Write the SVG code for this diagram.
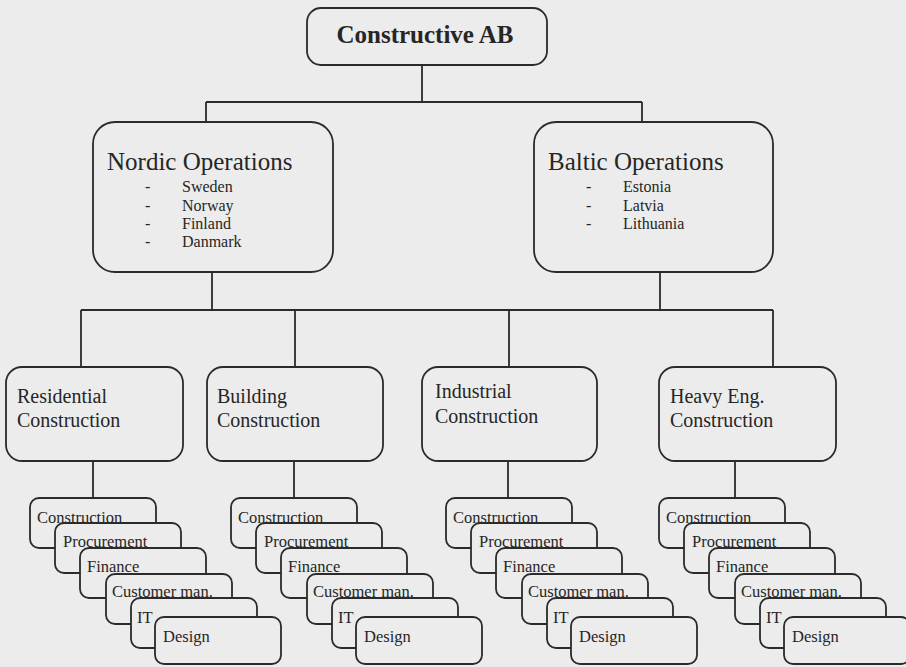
<svg xmlns="http://www.w3.org/2000/svg" width="906" height="667" viewBox="0 0 906 667">
  <style>
    .box { fill: #ececec; stroke: #2b2b2b; stroke-width: 1.8; }
    .wire { fill: none; stroke: #2b2b2b; stroke-width: 1.8; }
    text { font-family: "Liberation Serif", "Times New Roman", serif; fill: #262626; }
    .title { font-size: 25px; font-weight: bold; }
    .region { font-size: 25px; }
    .country { font-size: 16px; }
    .division { font-size: 20px; }
    .dept { font-size: 16.5px; }
  </style>
  <rect width="906" height="667" fill="#ececec"/>

  <!-- connectors -->
  <g id="connectors">
    <path class="wire" d="M422 65 V102 M206 102 H642 M206 102 V122 M642 102 V122"/>
    <path class="wire" d="M212 272 V310 M660 272 V310 M81 310 H773 M81 310 V367 M295 310 V367 M509 310 V367 M773 310 V367"/>
    <path class="wire" d="M93 461 V498 M294 461 V498 M508 461 V498 M735 461 V498"/>
  </g>

  <!-- top level -->
  <g id="constructive-ab">
    <rect class="box" x="307" y="8" width="240" height="57" rx="14"/>
    <text class="title" x="425" y="43" text-anchor="middle">Constructive AB</text>
  </g>

  <!-- regions -->
  <g id="nordic-operations">
    <rect class="box" x="93" y="122" width="240" height="150" rx="22"/>
    <text class="region" x="107" y="170">Nordic Operations</text>
    <g class="country">
      <text x="145" y="192">-</text><text x="182" y="192">Sweden</text>
      <text x="145" y="211">-</text><text x="182" y="211">Norway</text>
      <text x="145" y="229">-</text><text x="182" y="229">Finland</text>
      <text x="145" y="247">-</text><text x="182" y="247">Danmark</text>
    </g>
  </g>
  <g id="baltic-operations">
    <rect class="box" x="534" y="122" width="239" height="150" rx="22"/>
    <text class="region" x="548" y="170">Baltic Operations</text>
    <g class="country">
      <text x="586" y="192">-</text><text x="623" y="192">Estonia</text>
      <text x="586" y="211">-</text><text x="623" y="211">Latvia</text>
      <text x="586" y="229">-</text><text x="623" y="229">Lithuania</text>
    </g>
  </g>

  <!-- divisions -->
  <g id="residential-construction">
    <rect class="box" x="6" y="367" width="177" height="94" rx="16"/>
    <text class="division" x="17" y="403">Residential</text>
    <text class="division" x="17" y="427">Construction</text>
  </g>
  <g id="building-construction">
    <rect class="box" x="207" y="367" width="176" height="94" rx="16"/>
    <text class="division" x="217" y="403">Building</text>
    <text class="division" x="217" y="427">Construction</text>
  </g>
  <g id="industrial-construction">
    <rect class="box" x="422" y="367" width="175" height="94" rx="16"/>
    <text class="division" x="435" y="398">Industrial</text>
    <text class="division" x="435" y="423">Construction</text>
  </g>
  <g id="heavy-eng-construction">
    <rect class="box" x="659" y="367" width="177" height="94" rx="16"/>
    <text class="division" x="670" y="403">Heavy Eng.</text>
    <text class="division" x="670" y="427">Construction</text>
  </g>

  <!-- department stacks -->
  <defs>
    <g id="dept-stack">
      <rect class="box" x="0" y="0" width="126" height="50" rx="9"/>
      <text class="dept" x="7" y="25">Construction</text>
      <rect class="box" x="25" y="25" width="126" height="50" rx="9"/>
      <text class="dept" x="33" y="49">Procurement</text>
      <rect class="box" x="50" y="50" width="126" height="50" rx="9"/>
      <text class="dept" x="57" y="74">Finance</text>
      <rect class="box" x="76" y="76" width="126" height="50" rx="9"/>
      <text class="dept" x="82" y="99">Customer man.</text>
      <rect class="box" x="101" y="100" width="126" height="50" rx="9"/>
      <text class="dept" x="107" y="125">IT</text>
      <rect class="box" x="125" y="119" width="126" height="47" rx="9"/>
      <text class="dept" x="133" y="144">Design</text>
    </g>
  </defs>
  <g id="residential-departments"><use href="#dept-stack" x="30" y="498"/></g>
  <g id="building-departments"><use href="#dept-stack" x="231" y="498"/></g>
  <g id="industrial-departments"><use href="#dept-stack" x="446" y="498"/></g>
  <g id="heavy-eng-departments"><use href="#dept-stack" x="659" y="498"/></g>
</svg>
